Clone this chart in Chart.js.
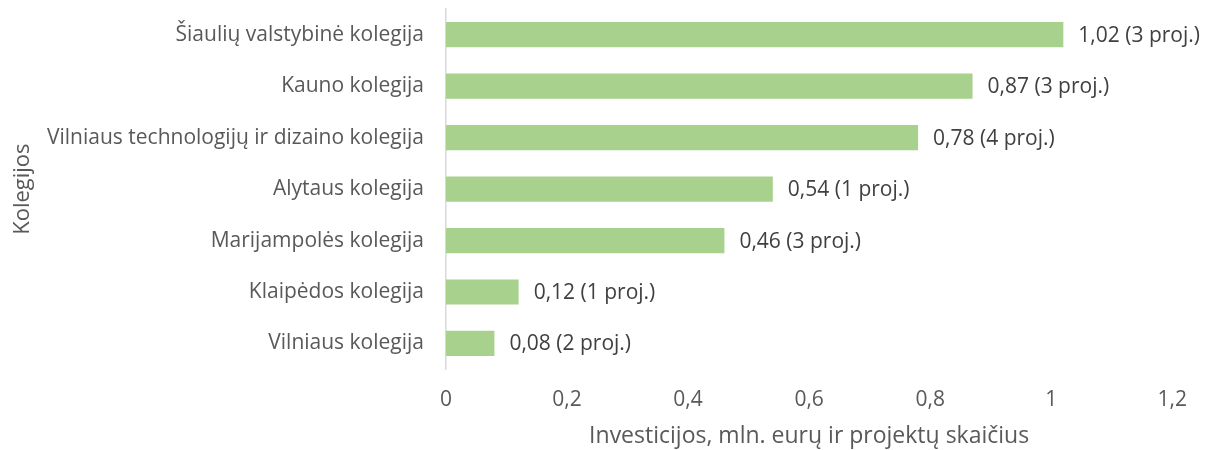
<!DOCTYPE html>
<html>
<head>
<meta charset="utf-8">
<script src="https://cdn.jsdelivr.net/npm/chart.js@4"></script>
<style>
    html, body { margin: 0; padding: 0; background: #ffffff; }
    #wrap { width: 1205px; height: 450px; }
</style>
</head>
<body>
<div id="wrap"><canvas id="chart" width="1205" height="450"></canvas></div>
<script>
const colleges = [
    "Šiaulių valstybinė kolegija",
    "Kauno kolegija",
    "Vilniaus technologijų ir dizaino kolegija",
    "Alytaus kolegija",
    "Marijampolės kolegija",
    "Klaipėdos kolegija",
    "Vilniaus kolegija"
];
const investments = [1.02, 0.87, 0.78, 0.54, 0.46, 0.12, 0.08];
const projects = [3, 3, 4, 1, 3, 1, 2];

const fontFamily = "'Open Sans', 'Noto Sans', sans-serif";
const textColor = "#595959";

function fmt(v) {
    return String(v).replace(".", ",");
}

// draws "0,87 (3 proj.)" after each bar
const barLabels = {
    id: "barLabels",
    afterDatasetsDraw(chart) {
        const ctx = chart.ctx;
        const meta = chart.getDatasetMeta(0);
        ctx.save();
        ctx.font = "21px " + fontFamily;
        ctx.fillStyle = "#404040";
        ctx.textAlign = "left";
        ctx.textBaseline = "middle";
        meta.data.forEach(function (bar, i) {
            const text = investments[i].toFixed(2).replace(".", ",") + " (" + projects[i] + " proj.)";
            ctx.fillText(text, bar.x + 15, bar.y + 1);
        });
        ctx.restore();
    }
};

new Chart(document.getElementById("chart").getContext("2d"), {
    type: "bar",
    data: {
        labels: colleges,
        datasets: [{
            data: investments,
            backgroundColor: "#a9d18e",
            barPercentage: 0.49,
            categoryPercentage: 1
        }]
    },
    options: {
        indexAxis: "y",
        responsive: false,
        animation: false,
        layout: { padding: { top: 9, right: 22, bottom: 0, left: 10 } },
        plugins: {
            legend: { display: false },
            tooltip: { enabled: false }
        },
        scales: {
            x: {
                min: 0,
                max: 1.2,
                ticks: {
                    stepSize: 0.2,
                    color: textColor,
                    font: { family: fontFamily, size: 21 },
                    padding: 18,
                    callback: function (v) { return fmt(Math.round(v * 10) / 10); }
                },
                grid: { display: false, drawTicks: false },
                border: { display: false },
                title: {
                    display: true,
                    text: "Investicijos, mln. eurų ir projektų skaičius",
                    color: textColor,
                    font: { family: fontFamily, size: 23 },
                    padding: { top: -8, bottom: 0 }
                }
            },
            y: {
                ticks: {
                    color: textColor,
                    font: { family: fontFamily, size: 21 },
                    padding: 22
                },
                grid: { display: false, drawTicks: false },
                border: { display: true, color: "#d9d9d9", width: 1.5 },
                title: {
                    display: true,
                    text: "Kolegijos",
                    color: textColor,
                    font: { family: fontFamily, size: 22 },
                    padding: { top: 0, bottom: 0 }
                },
                afterFit: function (scale) {
                    scale.width = 436;
                    scale.paddingTop = 0;
                    scale.paddingBottom = 0;
                }
            }
        }
    },
    plugins: [barLabels]
});
</script>
</body>
</html>
